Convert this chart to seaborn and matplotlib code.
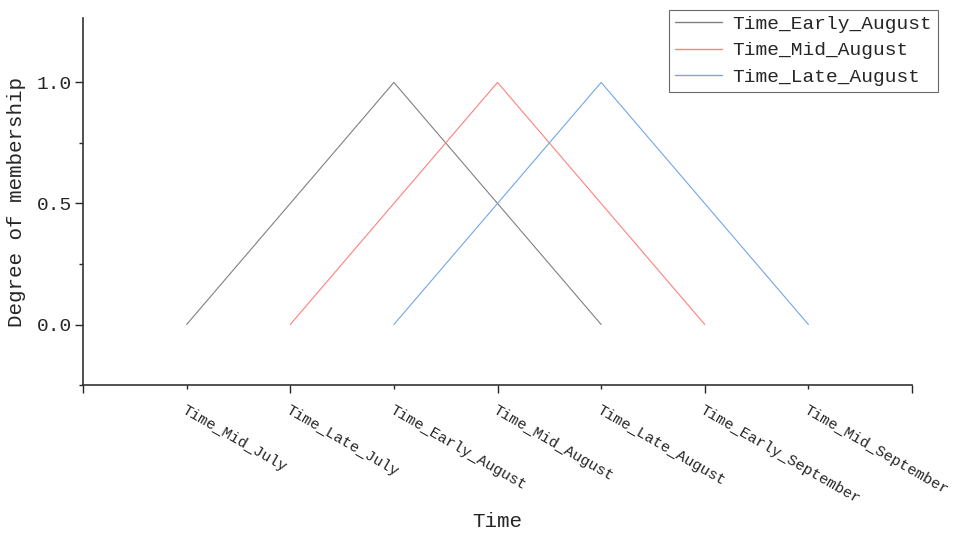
import matplotlib
matplotlib.use("Agg")
import matplotlib.pyplot as plt
import seaborn as sns
import pandas as pd

categories = ["Time_Mid_July", "Time_Late_July", "Time_Early_August", "Time_Mid_August",
              "Time_Late_August", "Time_Early_September", "Time_Mid_September"]
series_names = ["Time_Early_August", "Time_Mid_August", "Time_Late_August"]
early_aug_x = ["Time_Mid_July", "Time_Late_July", "Time_Early_August", "Time_Mid_August", "Time_Late_August"]
early_aug_y = [0.0, 0.5, 1.0, 0.5, 0.0]
mid_aug_x = ["Time_Late_July", "Time_Early_August", "Time_Mid_August", "Time_Late_August", "Time_Early_September"]
mid_aug_y = [0.0, 0.5, 1.0, 0.5, 0.0]
late_aug_x = ["Time_Early_August", "Time_Mid_August", "Time_Late_August", "Time_Early_September", "Time_Mid_September"]
late_aug_y = [0.0, 0.5, 1.0, 0.5, 0.0]
colors = ["#808080", "#ff8080", "#70a8e8"]

sns.set_theme(style="ticks")
plt.rcParams['font.family'] = ['Liberation Mono', 'DejaVu Sans']

rows = []
for name, xs, ys in zip(series_names, [early_aug_x, mid_aug_x, late_aug_x],
                        [early_aug_y, mid_aug_y, late_aug_y]):
    for c, v in zip(xs, ys):
        rows.append({"pos": categories.index(c) + 1, "value": v, "series": name})
df = pd.DataFrame(rows)

fig = plt.figure(figsize=(9.54, 5.37), dpi=100)
ax = fig.add_axes([0.087, 0.283, 0.869, 0.683])
sns.lineplot(data=df, x="pos", y="value", hue="series", hue_order=series_names,
             palette=colors, linewidth=0.8, ax=ax, sort=False, legend=False)

ax.set_xlim(0, 8)
ax.set_ylim(-0.25, 1.265)
ax.set_yticks([0.0, 0.5, 1.0])
ax.set_yticklabels(["0.0", "0.5", "1.0"], fontsize=14)
ax.set_yticks([-0.25, 0.25, 0.75], minor=True)

major_pos = [0, 2, 4, 6, 8]
minor_pos = [1, 3, 5, 7]
ax.set_xticks(major_pos)
ax.set_xticklabels(["", categories[1], categories[3], categories[5], ""],
                   rotation=-30, ha="left", va="top", rotation_mode="anchor", fontsize=11)
ax.set_xticks(minor_pos, minor=True)
ax.set_xticklabels([categories[0], categories[2], categories[4], categories[6]], minor=True,
                   rotation=-30, ha="left", va="top", rotation_mode="anchor", fontsize=11)
ax.tick_params(axis="x", which="major", length=6, width=1, pad=7)
ax.tick_params(axis="x", which="minor", length=3, width=1, pad=10)
ax.tick_params(axis="y", which="major", length=6, width=1, pad=2)
ax.tick_params(axis="y", which="minor", length=3, width=1)

for s in ["top", "right"]:
    ax.spines[s].set_visible(False)
for s in ["left", "bottom"]:
    ax.spines[s].set_linewidth(1.2)
    ax.spines[s].set_color("#333333")

ax.set_xlabel("Time", fontsize=15)
ax.xaxis.set_label_coords(0.5, -0.345)
ax.set_ylabel("Degree of membership", fontsize=15, labelpad=8)

handles = [plt.Line2D([], [], color=c, linewidth=1.0) for c in colors]
leg = ax.legend(handles, series_names, loc="upper right", bbox_to_anchor=(0.983, 0.982),
                bbox_transform=fig.transFigure,
                fontsize=14, frameon=True, fancybox=False, borderpad=0.3, labelspacing=0.45,
                handlelength=2.4, handletextpad=0.55, borderaxespad=0)
leg.get_frame().set_edgecolor("#444444")
leg.get_frame().set_linewidth(0.8)

fig.savefig("out.png", dpi=100)
